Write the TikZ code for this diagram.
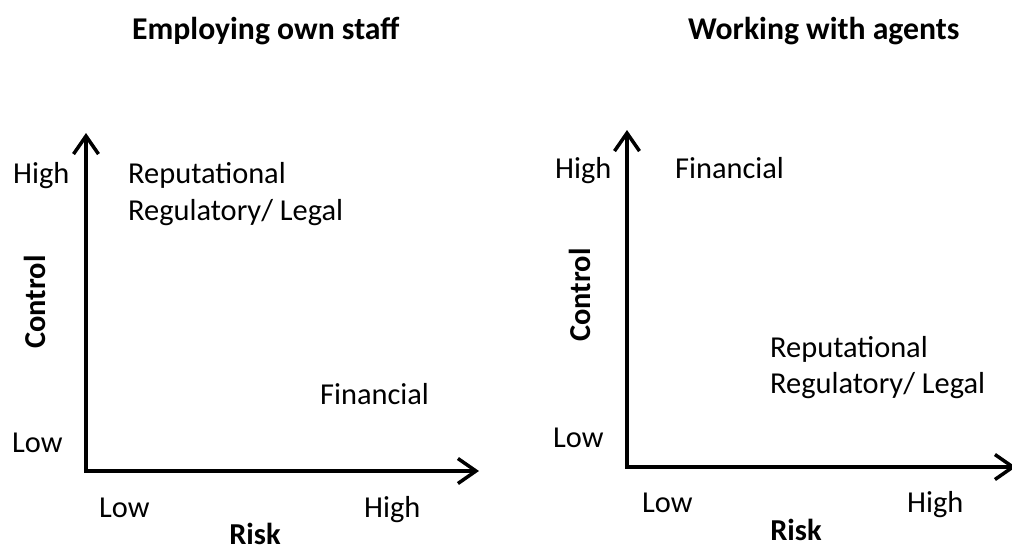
\documentclass[tikz,border=0pt]{standalone}
\usepackage{fontspec}
\setmainfont{Carlito}
\usetikzlibrary{arrows.meta}
\begin{document}
\begin{tikzpicture}[x=1pt,y=-1pt,
  lbl/.style={inner sep=0pt, anchor=base west, font=\fontsize{30.4}{36}\selectfont},
  ttl/.style={inner sep=0pt, anchor=base west, font=\fontsize{31.7}{38}\selectfont\bfseries},
  axlbl/.style={inner sep=0pt, anchor=base, text depth=0pt, font=\fontsize{30.4}{36}\selectfont\bfseries},
  tipstyle/.tip={Straight Barb[length=18pt,width=25pt]},
  axis/.style={line width=3.5pt, line join=miter, tipstyle-tipstyle}]
\useasboundingbox (0,0) rectangle (1012,547);
% titles
\node[ttl] (t1) at (132,39) {Employing own staff};
\node[ttl] (t2) at (688,39) {Working with agents};
% left chart
\coordinate (ly) at (86,133);
\coordinate (lo) at (86,471);
\coordinate (lx) at (479,471);
\draw[axis] (ly) |- (lx);
\node[lbl] (lhigh) at (13,183) {High};
\node[lbl] (llow) at (12,452) {Low};
\node[axlbl, rotate=90] (lctl) at (45,302) {Control};
\node[lbl] (lrep) at (128,183) {Reputational};
\node[lbl] (lreg) at (128,220) {Regulatory/ Legal};
\node[lbl] (lfin) at (320,404) {Financial};
\node[lbl] (lrlow) at (99,517) {Low};
\node[lbl] (lrhigh) at (364,517) {High};
\node[axlbl] (lrisk) at (255,544) {Risk};
% right chart
\coordinate (ry) at (627,130);
\coordinate (ro) at (627,467);
\coordinate (rx) at (1016,467);
\draw[axis] (ry) |- (rx);
\node[lbl] (rhigh) at (555,178) {High};
\node[lbl] (rlow) at (553,447) {Low};
\node[axlbl, rotate=90] (rctl) at (590,295) {Control};
\node[lbl] (rfin) at (675,178) {Financial};
\node[lbl] (rrep) at (770,357) {Reputational};
\node[lbl] (rreg) at (770,393) {Regulatory/ Legal};
\node[lbl] (rrlow) at (642,512) {Low};
\node[lbl] (rrhigh) at (907,512) {High};
\node[axlbl] (rrisk) at (796,540) {Risk};
\end{tikzpicture}
\end{document}
